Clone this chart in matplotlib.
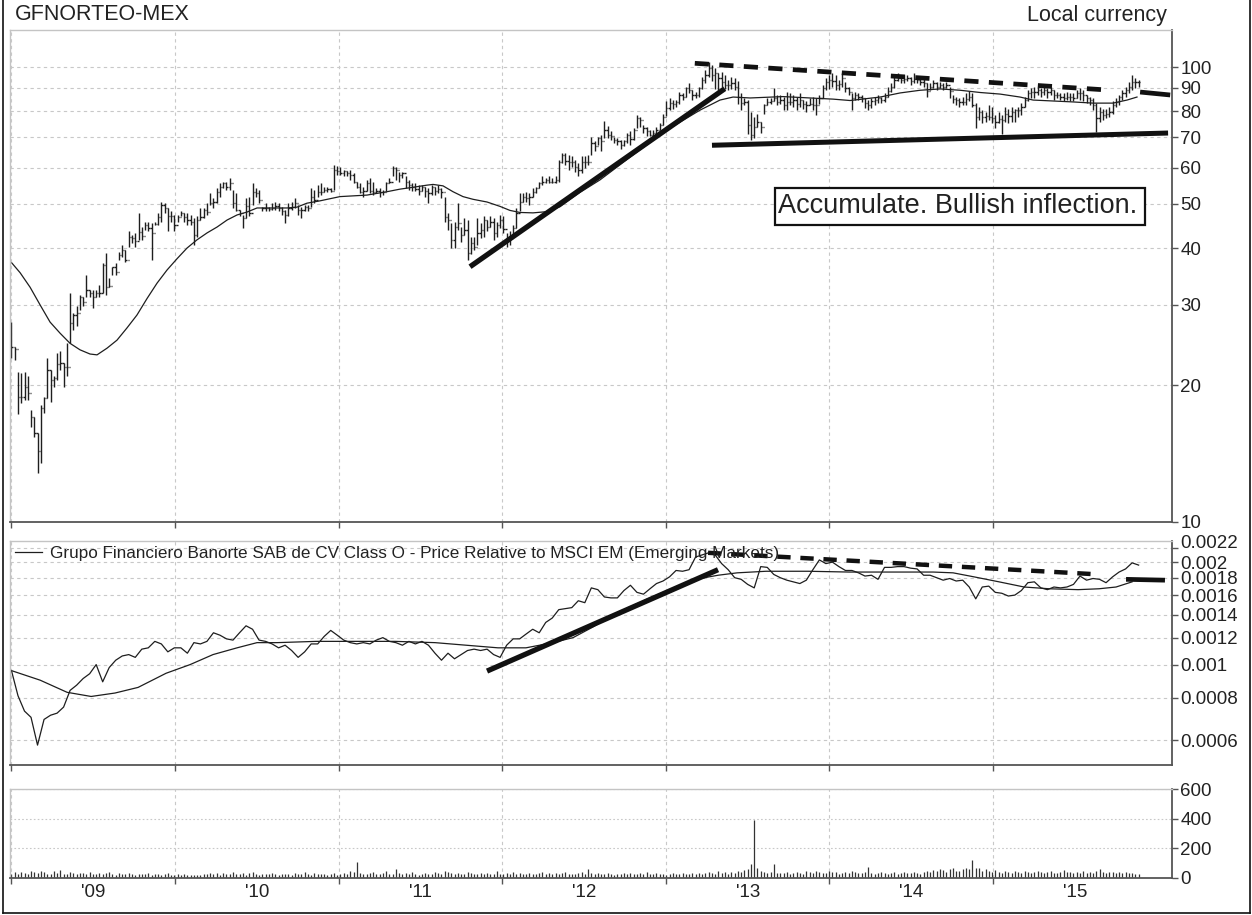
import numpy as np
import matplotlib
matplotlib.use("Agg")
import matplotlib.pyplot as plt
from matplotlib.lines import Line2D
from matplotlib.patches import Rectangle
from matplotlib.ticker import NullLocator, FixedLocator, FixedFormatter
from matplotlib import transforms

plt.rcParams['font.family'] = ['Liberation Sans', 'DejaVu Sans']

# ---------------- data (weekly bars) ----------------
start_year, end_year = 2009.0, 2015.89

high = [27.5, 24.2, 21.4, 21.3, 21.4, 20.9, 17.6, 17.0, 15.7, 18.1,
        18.8, 22.9, 21.6, 20.9, 23.5, 23.7, 22.4, 24.7, 31.8, 28.8,
        29.8, 31.5, 31.2, 34.9, 32.4, 32.4, 32.4, 33.2, 37.0, 39.0,
        34.3, 36.4, 37.0, 39.3, 40.6, 39.6, 43.5, 42.7, 43.2, 47.8,
        44.5, 45.7, 45.7, 45.4, 45.7, 47.8, 50.5, 50.2, 49.0, 48.2,
        47.3, 47.3, 48.2, 47.8, 47.8, 47.3, 46.6, 47.0, 49.0, 49.0,
        50.2, 52.9, 51.5, 54.2, 55.6, 56.0, 56.0, 57.0, 53.7, 52.9,
        48.5, 47.3, 51.5, 51.9, 55.6, 54.2, 53.7, 49.2, 50.2, 49.2,
        50.2, 50.5, 50.2, 49.2, 48.5, 50.2, 50.5, 51.5, 49.7, 49.2,
        49.7, 49.7, 54.2, 53.7, 55.0, 55.6, 54.5, 54.5, 54.2, 60.9,
        60.5, 60.2, 59.4, 59.0, 59.4, 58.5, 56.0, 55.6, 54.5, 56.5,
        57.0, 56.0, 54.2, 54.2, 53.7, 56.0, 57.0, 60.5, 60.2, 58.9,
        58.9, 57.5, 56.5, 55.6, 55.6, 55.0, 55.0, 54.5, 54.2, 55.0,
        54.5, 55.0, 54.2, 51.9, 47.8, 45.4, 45.7, 50.2, 44.5, 46.6,
        46.1, 42.3, 42.3, 46.6, 45.4, 47.0, 46.1, 47.0, 46.6, 45.7,
        47.3, 47.0, 43.2, 43.5, 44.9, 49.0, 52.9, 52.9, 53.2, 52.9,
        54.2, 54.5, 56.0, 57.5, 57.0, 57.5, 57.0, 57.5, 62.5, 64.6,
        64.6, 64.1, 63.6, 62.5, 61.5, 63.6, 63.6, 64.1, 70.2, 68.6,
        70.2, 70.9, 76.0, 74.2, 72.4, 70.2, 69.7, 69.1, 69.1, 71.6,
        72.4, 73.6, 78.4, 77.6, 74.6, 74.0, 72.7, 72.7, 74.0, 75.3,
        79.0, 84.0, 85.4, 84.6, 84.6, 88.3, 87.5, 90.6, 92.2, 89.0,
        88.1, 90.6, 95.3, 98.5, 102.5, 101.0, 99.3, 96.8, 97.7, 96.0,
        93.6, 95.3, 94.6, 93.1, 87.5, 85.5, 84.6, 79.7, 77.5, 78.8,
        75.8, 83.1, 85.5, 85.5, 89.7, 86.8, 86.8, 86.1, 88.1, 87.5,
        86.8, 86.1, 87.5, 84.6, 84.0, 85.5, 86.1, 85.5, 86.8, 91.3,
        94.5, 96.0, 96.8, 96.0, 93.6, 96.8, 92.7, 90.4, 87.5, 88.1,
        87.7, 86.8, 85.5, 84.6, 85.5, 86.1, 86.8, 86.1, 87.7, 90.6,
        92.2, 96.0, 97.0, 95.1, 96.0, 96.0, 95.1, 97.0, 95.1, 94.5,
        95.1, 92.2, 92.2, 93.6, 92.7, 92.7, 92.2, 92.7, 90.4, 86.8,
        86.1, 85.5, 86.1, 87.7, 88.5, 87.7, 83.3, 81.8, 80.4, 79.7,
        82.5, 81.8, 78.4, 79.7, 78.4, 81.8, 81.0, 81.8, 81.0, 81.8,
        83.3, 86.1, 89.0, 89.7, 90.4, 90.4, 89.7, 90.4, 89.7, 90.4,
        89.0, 88.1, 87.7, 87.7, 88.1, 87.7, 87.7, 89.0, 89.7, 89.0,
        86.8, 86.1, 85.5, 83.3, 81.8, 81.0, 81.0, 81.8, 84.2, 85.5,
        86.8, 89.0, 90.4, 92.7, 96.0, 94.5, 93.6]

low = [22.9, 22.7, 17.3, 18.3, 18.5, 18.5, 16.2, 15.4, 12.8, 13.5,
       17.4, 18.7, 18.4, 19.8, 20.5, 21.6, 19.8, 20.9, 24.7, 26.4,
       26.9, 29.2, 29.8, 31.2, 31.2, 29.5, 31.2, 31.2, 31.9, 31.5,
       32.9, 34.9, 34.9, 37.7, 38.3, 37.3, 40.3, 41.0, 40.3, 41.7,
       41.7, 43.8, 43.5, 37.7, 44.9, 44.9, 45.7, 47.8, 43.5, 45.7,
       43.5, 45.7, 47.0, 45.7, 44.9, 44.9, 40.6, 42.3, 46.1, 46.6,
       47.3, 49.7, 49.0, 50.2, 51.9, 54.2, 53.7, 53.7, 49.0, 48.2,
       47.0, 44.3, 46.6, 47.0, 49.7, 51.9, 50.2, 48.2, 48.2, 48.2,
       48.5, 48.5, 48.2, 47.3, 45.4, 47.0, 48.5, 49.0, 47.3, 46.6,
       48.2, 48.2, 49.2, 50.2, 51.9, 52.3, 53.2, 53.2, 53.2, 53.7,
       57.9, 57.9, 57.5, 57.5, 56.5, 55.6, 54.2, 52.9, 51.9, 53.3,
       52.9, 52.3, 52.9, 51.9, 52.3, 53.3, 55.6, 57.5, 56.5, 56.0,
       57.0, 54.2, 53.7, 53.3, 53.3, 52.3, 53.3, 51.9, 50.2, 52.3,
       52.3, 52.9, 51.5, 45.7, 43.8, 40.0, 40.0, 43.8, 41.2, 42.7,
       37.7, 38.9, 39.6, 40.6, 42.0, 42.3, 43.5, 44.5, 41.7, 42.3,
       44.3, 43.2, 40.3, 40.6, 42.3, 44.3, 48.2, 50.5, 50.5, 49.7,
       51.9, 52.9, 54.2, 55.0, 55.6, 55.6, 55.6, 55.6, 56.0, 61.4,
       60.9, 59.4, 60.3, 58.9, 57.5, 58.5, 60.0, 60.9, 64.1, 65.3,
       67.4, 65.3, 69.7, 69.7, 69.1, 68.1, 67.4, 66.1, 67.0, 68.1,
       67.4, 69.1, 73.4, 74.0, 71.6, 70.5, 70.5, 69.7, 70.5, 72.7,
       74.6, 78.0, 80.4, 81.0, 81.8, 83.1, 84.6, 86.1, 87.5, 84.6,
       85.5, 86.1, 89.5, 92.2, 95.3, 93.1, 89.5, 89.0, 90.4, 89.5,
       89.0, 89.5, 89.0, 83.1, 80.4, 82.5, 71.4, 69.1, 69.7, 74.0,
       71.6, 79.0, 82.5, 83.1, 84.0, 82.5, 83.1, 80.4, 80.4, 82.5,
       81.8, 80.4, 81.8, 81.0, 79.7, 82.5, 80.4, 78.5, 83.1, 85.3,
       89.0, 89.5, 90.4, 89.0, 89.0, 90.4, 88.1, 86.8, 80.4, 84.6,
       84.6, 83.8, 81.3, 80.6, 81.3, 82.5, 83.3, 83.3, 83.8, 85.9,
       88.3, 89.7, 93.0, 92.2, 92.2, 93.0, 91.3, 92.2, 92.2, 91.3,
       90.4, 86.0, 89.0, 89.7, 89.0, 89.7, 89.0, 89.7, 85.5, 83.3,
       82.5, 81.8, 82.5, 82.5, 84.2, 81.8, 73.4, 76.5, 75.3, 75.7,
       76.5, 75.3, 73.4, 75.3, 71.4, 75.7, 75.3, 75.7, 75.7, 77.6,
       78.4, 81.8, 84.2, 85.5, 85.5, 86.8, 86.1, 86.8, 85.5, 86.8,
       84.6, 85.5, 84.6, 84.0, 84.6, 84.0, 84.0, 85.5, 84.6, 84.0,
       83.3, 82.5, 80.4, 72.0, 75.7, 76.5, 77.2, 77.6, 79.0, 81.8,
       82.5, 84.6, 86.0, 87.7, 89.0, 89.7, 90.4]

close = [24.2, 24.0, 18.8, 18.8, 19.8, 19.2, 17.0, 15.7, 14.3, 17.8,
         18.7, 21.6, 20.5, 20.7, 22.3, 22.4, 21.9, 21.9, 27.4, 28.5,
         28.8, 31.2, 30.5, 32.4, 31.8, 31.2, 31.8, 31.8, 36.7, 32.8,
         33.0, 36.4, 35.5, 38.6, 39.6, 37.7, 42.3, 42.0, 41.5, 43.4,
         42.5, 44.9, 44.2, 43.1, 45.2, 46.8, 49.7, 49.0, 47.0, 47.0,
         44.9, 46.8, 47.7, 46.8, 46.0, 45.7, 42.7, 46.0, 46.8, 48.5,
         48.0, 50.2, 50.5, 53.2, 54.5, 55.6, 54.5, 55.6, 50.2, 48.5,
         47.7, 46.6, 49.5, 47.7, 53.2, 52.9, 51.0, 49.0, 49.0, 48.7,
         49.0, 49.5, 49.0, 48.2, 47.3, 49.0, 49.2, 50.2, 48.5, 48.5,
         49.2, 49.0, 51.8, 51.0, 53.2, 53.2, 53.7, 53.9, 53.5, 59.4,
         59.0, 58.5, 59.0, 58.5, 57.9, 55.9, 54.5, 53.2, 53.5, 55.6,
         53.5, 53.2, 53.5, 53.0, 53.0, 55.6, 55.9, 60.0, 59.4, 57.9,
         58.5, 55.9, 55.0, 54.5, 54.0, 53.5, 54.5, 53.5, 52.9, 54.5,
         53.5, 54.0, 53.2, 46.8, 46.1, 41.7, 44.4, 45.5, 42.7, 43.8,
         39.0, 41.1, 40.2, 43.1, 43.8, 46.1, 44.5, 45.7, 43.1, 44.9,
         46.1, 44.0, 41.7, 42.0, 44.2, 47.8, 50.5, 51.8, 51.5, 51.8,
         53.2, 54.2, 55.6, 56.0, 56.5, 56.0, 56.0, 56.5, 61.8, 64.1,
         62.0, 61.8, 61.9, 60.3, 59.4, 61.8, 61.8, 61.8, 68.1, 67.0,
         69.8, 68.6, 72.7, 70.9, 70.5, 69.2, 68.6, 67.4, 68.6, 70.9,
         69.5, 72.7, 77.4, 76.5, 73.6, 72.4, 70.9, 71.6, 72.7, 74.6,
         77.8, 81.3, 83.3, 82.9, 83.7, 86.6, 85.9, 89.9, 89.0, 86.6,
         86.8, 89.9, 93.5, 96.0, 99.6, 96.0, 97.0, 94.6, 92.7, 91.3,
         91.3, 92.2, 90.4, 86.0, 83.3, 83.8, 74.6, 70.9, 74.0, 75.7,
         74.0, 82.5, 83.7, 84.0, 85.6, 83.7, 84.6, 82.5, 83.7, 83.7,
         84.6, 83.1, 84.6, 83.1, 82.5, 83.1, 82.5, 82.5, 85.5, 89.9,
         92.7, 93.6, 93.1, 91.3, 91.8, 94.5, 89.9, 88.1, 85.5, 86.8,
         86.1, 85.5, 83.3, 82.5, 84.0, 84.6, 85.6, 84.6, 86.1, 88.5,
         90.4, 93.6, 94.6, 93.6, 94.1, 94.6, 93.1, 94.1, 93.6, 92.7,
         92.2, 88.5, 90.4, 92.2, 90.4, 91.3, 90.4, 91.3, 88.5, 85.0,
         84.6, 83.7, 83.7, 85.0, 86.0, 82.5, 77.8, 79.5, 77.8, 78.0,
         77.8, 77.4, 75.7, 77.0, 76.3, 79.0, 78.0, 79.6, 80.4, 80.4,
         81.8, 84.6, 87.6, 88.1, 88.1, 89.0, 88.1, 89.0, 88.1, 89.0,
         86.6, 86.6, 86.1, 85.6, 86.1, 86.1, 85.6, 87.6, 87.6, 87.0,
         85.6, 84.6, 82.5, 77.4, 79.5, 78.4, 79.0, 79.6, 82.5, 83.7,
         85.9, 87.6, 89.0, 90.3, 92.8, 92.7, 92.8]

volume = [30, 38, 25, 42, 35, 28, 45, 40, 33, 50, 38, 30, 26, 44, 36, 55, 30, 28, 40, 34,
          29, 36, 32, 26, 41, 30, 24, 35, 28, 33, 39, 27, 22, 31, 26, 29, 34, 25, 21, 30,
          27, 24, 33, 20, 28, 25, 19, 26, 31, 22, 18, 24, 21, 27, 23, 20, 17, 22, 19, 25,
          28, 34, 26, 31, 22, 36, 25, 29, 38, 24, 27, 32, 23, 35, 40, 28, 21, 30, 26, 24,
          33, 27, 22, 30, 25, 28, 21, 35, 29, 24, 38, 26, 22, 31, 27, 25, 30, 23, 28, 33,
          22, 27, 35, 30, 45, 38, 108, 35, 28, 25, 32, 40, 27, 24, 36, 44, 30, 29, 62, 34,
          26, 31, 28, 38, 24, 20, 27, 33, 29, 25, 40, 34, 30, 45, 38, 32, 28, 35, 30, 26,
          42, 31, 27, 24, 36, 29, 33, 25, 28, 45, 30, 26, 34, 29, 38, 27, 31, 24, 28, 35,
          30, 26, 33, 42, 28, 31, 25, 36, 29, 33, 40, 27, 30, 26, 34, 38, 29, 60, 35, 28,
          31, 27, 25, 34, 29, 23, 30, 26, 32, 28, 35, 24, 29, 31, 26, 38, 30, 27, 33, 25,
          29, 22, 26, 31, 24, 28, 33, 26, 30, 35, 27, 32, 25, 36, 40, 31, 28, 45, 34, 38,
          30, 42, 35, 48, 38, 52, 60, 95, 388, 70, 45, 38, 33, 40, 92, 36, 31, 34, 38, 30,
          35, 42, 33, 29, 46, 38, 34, 50, 41, 36, 33, 45, 38, 42, 30, 36, 40, 34, 48, 39,
          35, 31, 38, 74, 33, 29, 36, 40, 32, 28, 35, 41, 30, 34, 38, 31, 36, 42, 33, 29,
          40, 45, 38, 52, 48, 60, 55, 42, 58, 66, 50, 47, 62, 70, 58, 120, 65, 69, 48, 62,
          44, 38, 52, 40, 35, 46, 41, 37, 49, 42, 36, 45, 39, 34, 43, 48, 38, 35, 41, 44,
          37, 33, 40, 55, 38, 42, 36, 39, 34, 44, 37, 41, 35, 46, 62, 40, 36, 42, 38, 33,
          39, 35, 41, 34, 37, 30, 28]

# 40-week moving average of price
ma_t = [2009.002, 2009.053, 2009.114, 2009.175, 2009.236, 2009.297, 2009.358, 2009.419, 2009.480, 2009.523,
        2009.584, 2009.645, 2009.706, 2009.767, 2009.829, 2009.890, 2009.951, 2010.012, 2010.073, 2010.134,
        2010.196, 2010.257, 2010.318, 2010.379, 2010.440, 2010.501, 2010.562, 2010.623, 2010.684, 2010.745,
        2010.806, 2010.886, 2011.008, 2011.173, 2011.295, 2011.375, 2011.454, 2011.540, 2011.577, 2011.638,
        2011.699, 2011.760, 2011.821, 2011.907, 2011.986, 2012.047, 2012.108, 2012.188, 2012.274, 2012.353,
        2012.475, 2012.598, 2012.800, 2013.007, 2013.209, 2013.331, 2013.411, 2013.515, 2013.716, 2013.881,
        2014.022, 2014.126, 2014.310, 2014.432, 2014.554, 2014.677, 2014.799, 2014.921, 2015.043, 2015.165,
        2015.245, 2015.367, 2015.489, 2015.611, 2015.733, 2015.819, 2015.880]
ma_v = [37.1, 35.3, 32.8, 30.0, 27.5, 26.0, 24.7, 23.9, 23.4, 23.3,
        24.1, 25.1, 26.7, 28.5, 31.0, 33.5, 35.8, 37.9, 40.0, 41.7,
        43.2, 44.5, 46.1, 47.3, 48.0, 49.0, 49.0, 49.0, 49.0, 49.2,
        50.2, 50.8, 51.9, 52.3, 53.2, 53.9, 54.4, 55.0, 55.2, 54.8,
        53.2, 51.9, 51.2, 50.5, 49.4, 48.4, 47.9, 47.8, 48.1, 49.3,
        53.0, 56.5, 64.1, 72.7, 80.4, 84.6, 85.9, 85.5, 86.1, 85.5,
        85.0, 84.4, 85.9, 87.7, 88.9, 89.5, 88.9, 87.9, 87.2, 85.9,
        84.6, 84.2, 83.8, 83.3, 83.3, 84.6, 85.9]

# price relative to MSCI EM (bi-weekly readings)
rel = [.00096, .00081, .00073, .00070, .00058, .00069, .00071, .00072, .00075, .00084,
       .00087, .00091, .00094, .00100, .00089, .00098, .00103, .00106, .00107, .00105,
       .00111, .00112, .00117, .00115, .00109, .00112, .00112, .00108, .00116, .00115,
       .00117, .00124, .00122, .00119, .00118, .00124, .00130, .00127, .00118, .00117,
       .00115, .00112, .00114, .00110, .00105, .00109, .00115, .00115, .00121, .00126,
       .00122, .00118, .00116, .00115, .00116, .00115, .00118, .00120, .00117, .00116,
       .00114, .00117, .00115, .00117, .00114, .00108, .00103, .00108, .00104, .00107,
       .00110, .00111, .00110, .00111, .00107, .00105, .00114, .00119, .00119, .00123,
       .00127, .00124, .00133, .00137, .00145, .00146, .00147, .00154, .00152, .00168,
       .00166, .00158, .00157, .00157, .00165, .00171, .00163, .00161, .00167, .00173,
       .00176, .00181, .00189, .00188, .00190, .00207, .00210, .00213, .00210, .00198,
       .00190, .00180, .00178, .00172, .00168, .00194, .00193, .00184, .00180, .00177,
       .00175, .00173, .00177, .00190, .00203, .00198, .00200, .00194, .00189, .00189,
       .00186, .00182, .00183, .00178, .00193, .00193, .00194, .00194, .00192, .00191,
       .00183, .00183, .00180, .00177, .00179, .00176, .00177, .00169, .00156, .00169,
       .00170, .00163, .00162, .00159, .00160, .00165, .00174, .00175, .00168, .00166,
       .00169, .00168, .00169, .00172, .00182, .00177, .00179, .00178, .00174, .00181,
       .00187, .00191, .00199, .00196]

rel_ma_t = [2009.000, 2009.175, 2009.340, 2009.487, 2009.633, 2009.774, 2009.945, 2010.092, 2010.232, 2010.379,
            2010.501, 2010.623, 2010.862, 2011.106, 2011.345, 2011.589, 2011.779, 2011.974, 2012.145, 2012.310,
            2012.433, 2012.555, 2012.702, 2012.903, 2013.087, 2013.209, 2013.319, 2013.436, 2013.613, 2013.870,
            2014.120, 2014.377, 2014.634, 2014.756, 2014.884, 2015.037, 2015.190, 2015.343, 2015.520, 2015.648,
            2015.752, 2015.850]
rel_ma_v = [0.00096, 0.000900, 0.000829, 0.000806, 0.000825, 0.000857, 0.000943, 0.00100, 0.00107, 0.00112,
            0.00116, 0.00116, 0.00117, 0.00117, 0.00117, 0.00116, 0.00114, 0.00112, 0.00112, 0.00116,
            0.00120, 0.00129, 0.00142, 0.00157, 0.00171, 0.00179, 0.00183, 0.00186, 0.00188, 0.00188,
            0.00187, 0.00187, 0.00187, 0.00186, 0.00181, 0.00175, 0.00169, 0.00167, 0.00166, 0.00167,
            0.00169, 0.00175]

# hand-drawn trend lines (date, value) pairs
price_up_t, price_up_v = [2011.803, 2013.36], [36.4, 89.6]
price_sup_t, price_sup_v = [2013.282, 2016.07], [67.3, 71.6]
price_res_t, price_res_v = [2013.177, 2015.703], [101.9, 89.0]
price_ext_t, price_ext_v = [2015.899, 2016.083], [88.1, 86.8]
rel_up_t, rel_up_v = [2011.907, 2013.319], [0.000957, 0.00190]
rel_res_t, rel_res_v = [2013.258, 2015.648], [0.00213, 0.00184]
rel_ext_t, rel_ext_v = [2015.813, 2016.051], [0.00178, 0.00177]

price_ticks = [10, 20, 30, 40, 50, 60, 70, 80, 90, 100]
rel_ticks = [0.0006, 0.0008, 0.001, 0.0012, 0.0014, 0.0016, 0.0018, 0.002, 0.0022]
rel_labels = ['0.0006', '0.0008', '0.001', '0.0012', '0.0014', '0.0016', '0.0018', '0.002', '0.0022']
vol_ticks = [0, 200, 400, 600]
years = [2009, 2010, 2011, 2012, 2013, 2014, 2015]
year_labels = ["'09", "'10", "'11", "'12", "'13", "'14", "'15"]

title = 'GFNORTEO-MEX'
currency = 'Local currency'
rel_label = 'Grupo Financiero Banorte SAB de CV Class O - Price Relative to MSCI EM (Emerging Markets)'
note = 'Accumulate. Bullish inflection.'

assert len(high) == len(low) == len(close) == len(volume)

# ---------------- figure ----------------
W, H = 1252, 915
fig = plt.figure(figsize=(W / 100, H / 100), dpi=100)

def axes_px(left, top, right, bottom):
    return fig.add_axes([left / W, 1 - bottom / H, (right - left) / W, (bottom - top) / H])

ax1 = axes_px(10, 30, 1172, 522)
ax2 = axes_px(10, 541, 1172, 765)
ax3 = axes_px(10, 789, 1172, 878)

TXT = '#222222'
GRID = '#c8c8c8'
xmin, xmax = 2008.991, 2016.094

for ax in (ax1, ax2, ax3):
    ax.set_xlim(xmin, xmax)
    for s in ('top', 'left'):
        ax.spines[s].set_color('#c4c4c4')
        ax.spines[s].set_linewidth(1.0)
    for s in ('right', 'bottom'):
        ax.spines[s].set_color('#555555')
        ax.spines[s].set_linewidth(1.3)
    ax.yaxis.tick_right()
    ax.tick_params(axis='y', which='major', direction='out', length=4.5, width=1.0,
                   color='#555555', labelsize=13.5, labelcolor=TXT, pad=1.5)
    ax.tick_params(axis='y', which='minor', length=0)
    ax.set_xticks(years)
    ax.tick_params(axis='x', which='major', direction='out', length=4, width=1.0,
                   color='#555555', labelbottom=False)
    ax.grid(True, which='major', axis='x', color=GRID, linestyle=(0, (3, 3)), linewidth=0.8)
    ax.set_axisbelow(True)

t = np.linspace(start_year, end_year, len(close))
hi = np.array(high); lo = np.array(low); cl = np.array(close)
op = np.r_[cl[0], cl[:-1]]
tw = 0.0075

# ---- panel 1: price bars ----
ax1.set_yscale('log')
ax1.set_ylim(10, 120.6)
ax1.yaxis.set_major_locator(FixedLocator(price_ticks))
ax1.yaxis.set_major_formatter(FixedFormatter([str(v) for v in price_ticks]))
ax1.yaxis.set_minor_locator(NullLocator())
ax1.grid(True, which='major', axis='y', color=GRID, linestyle=(0, (3, 3)), linewidth=0.8)

bar_c = '#1e1e1e'
ax1.vlines(t, lo, hi, color=bar_c, lw=1.0)
ax1.hlines(cl, t, t + tw, color=bar_c, lw=1.0)
ax1.hlines(op, t - tw, t, color=bar_c, lw=1.0)
ax1.plot(ma_t, ma_v, color='#1e1e1e', lw=0.9)

ax1.plot(price_up_t, price_up_v, color='#111111', lw=3.8, solid_capstyle='butt')
ax1.plot(price_sup_t, price_sup_v, color='#111111', lw=3.6, solid_capstyle='butt')
ax1.plot(price_res_t, price_res_v, color='#111111', lw=3.4, linestyle=(0, (3.0, 2.2)),
         dash_capstyle='butt')
ax1.plot(price_ext_t, price_ext_v, color='#111111', lw=3.4, solid_capstyle='butt')

# annotation box
ax1.add_patch(Rectangle(((775 - 10) / 1162, (522 - 225) / 492), 370 / 1162, 37.5 / 492,
                        transform=ax1.transAxes, facecolor='white', edgecolor='#111111',
                        lw=1.6, zorder=5))
ax1.text((958 - 10) / 1162, (522 - 206.4) / 492, note, transform=ax1.transAxes,
         ha='center', va='center', fontsize=19.5, color=TXT, zorder=6)

# ---- panel 2: relative ----
ax2.set_yscale('log')
ax2.set_ylim(0.000507, 0.002307)
ax2.yaxis.set_major_locator(FixedLocator(rel_ticks))
# the two top labels sit very close together; draw them as separate texts nudged apart
ax2.yaxis.set_major_formatter(FixedFormatter(rel_labels[:-2] + ['', '']))
ax2.yaxis.set_minor_locator(NullLocator())
ax2.grid(True, which='major', axis='y', color=GRID, linestyle=(0, (3, 3)), linewidth=0.8)
ytr = ax2.get_yaxis_transform()
for val, lab, dy in [(rel_ticks[-2], rel_labels[-2], -2.0), (rel_ticks[-1], rel_labels[-1], 3.0)]:
    tr = transforms.offset_copy(ytr, fig=fig, x=6.0, y=dy, units='points')
    ax2.text(1.0, val, lab, transform=tr, ha='left', va='center', fontsize=13.5,
             color=TXT, clip_on=False)

t_rel = np.linspace(start_year, end_year, len(rel))
ax2.plot(t_rel, rel, color='#1e1e1e', lw=0.9)
ax2.plot(rel_ma_t, rel_ma_v, color='#1e1e1e', lw=0.9)
ax2.plot(rel_up_t, rel_up_v, color='#111111', lw=3.8, solid_capstyle='butt')
ax2.plot(rel_res_t, rel_res_v, color='#111111', lw=3.2, linestyle=(0, (3.0, 2.2)),
         dash_capstyle='butt')
ax2.plot(rel_ext_t, rel_ext_v, color='#111111', lw=3.4, solid_capstyle='butt')

leg = ax2.legend([Line2D([], [], color='#1e1e1e', lw=0.9)], [rel_label], loc='upper left',
                 frameon=False, fontsize=12.3, handlelength=1.6, handletextpad=0.45,
                 borderaxespad=0.0, borderpad=0.3, labelcolor=TXT)

# ---- panel 3: volume ----
ax3.set_ylim(0, 600)
ax3.yaxis.set_major_locator(FixedLocator(vol_ticks))
ax3.yaxis.set_major_formatter(FixedFormatter([str(v) for v in vol_ticks]))
ax3.grid(True, which='major', axis='y', color=GRID, linestyle=(0, (1.5, 2)), linewidth=0.8)
ax3.vlines(t, 0, volume, color='#333333', lw=0.9)

ax3.xaxis.set_minor_locator(FixedLocator([y + 0.5 for y in years]))
ax3.xaxis.set_minor_formatter(FixedFormatter(year_labels))
ax3.tick_params(axis='x', which='minor', length=0, labelsize=13.5, labelcolor=TXT,
                labelbottom=True, pad=4)

# ---- header texts and outer frame ----
fig.text(15 / W, 1 - 15 / H, title, ha='left', va='center', fontsize=15.5, color=TXT)
fig.text(1167 / W, 1 - 15 / H, currency, ha='right', va='center', fontsize=15.5, color=TXT)

for (x0, y0, x1, y1) in [(3, 0, 3, 913), (1250, 0, 1250, 913), (3, 913, 1250, 913)]:
    fig.add_artist(Line2D([x0 / W, x1 / W], [1 - y0 / H, 1 - y1 / H], color='#111111',
                          lw=1.2, transform=fig.transFigure))

fig.savefig('out.png', dpi=100)
